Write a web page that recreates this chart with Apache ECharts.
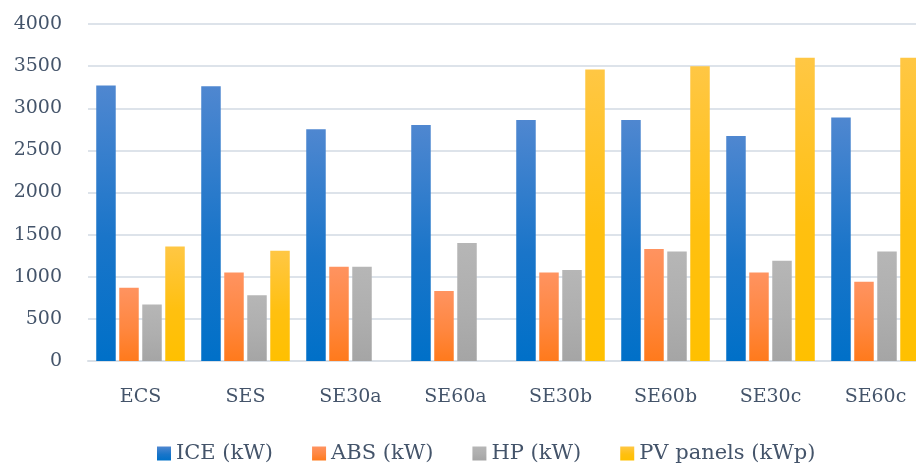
<!DOCTYPE html>
<html>
<head>
<meta charset="utf-8">
<script src="https://cdn.jsdelivr.net/npm/echarts@6/dist/echarts.min.js"></script>
<style>
	html, body { margin: 0; padding: 0; background: #fff; }
	#chart { width: 916px; height: 463px; }
</style>
</head>
<body>
<div id="chart"></div>
<script>
var categories = ['ECS', 'SES', 'SE30a', 'SE60a', 'SE30b', 'SE60b', 'SE30c', 'SE60c'];
var yTicks = [0, 500, 1000, 1500, 2000, 2500, 3000, 3500, 4000];
var iceData = [3270, 3260, 2750, 2800, 2860, 2860, 2670, 2890];
var absData = [870, 1050, 1120, 830, 1050, 1330, 1050, 940];
var hpData = [670, 780, 1120, 1400, 1080, 1300, 1190, 1300];
var pvData = [1360, 1310, 0, 0, 3460, 3500, 3600, 3600];

var textColor = '#44546A';
var fontFam = 'DejaVu Serif';

// 渐变填充
function grad(top, mid, bottom) {
	return new echarts.graphic.LinearGradient(0, 0, 0, 1, [
		{ offset: 0, color: top },
		{ offset: 0.55, color: mid },
		{ offset: 1, color: bottom }
	]);
}

var chart = echarts.init(document.getElementById('chart'));
var option = {
	animation: false,
	grid: { left: 88, width: 840, top: 24, bottom: 102, containLabel: false, outerBoundsMode: 'none' },
	legend: {
		top: 438,
		left: 152,
		itemWidth: 14,
		itemHeight: 14,
		itemGap: 39,
		icon: 'rect',
		textStyle: { color: textColor, fontFamily: fontFam, fontSize: 21, padding: [0, 0, 0, 0] },
		data: ['ICE (kW)', 'ABS (kW)', 'HP (kW)', 'PV panels (kWp)']
	},
	xAxis: {
		type: 'category',
		data: categories,
		axisTick: { show: false },
		axisLine: { lineStyle: { color: '#d9dfe6', width: 2 } },
		axisLabel: { color: textColor, fontFamily: fontFam, fontSize: 19, margin: 27 }
	},
	yAxis: {
		type: 'value',
		min: yTicks[0],
		max: yTicks[yTicks.length - 1],
		interval: 500,
		axisLine: { show: false },
		axisTick: { show: false },
		splitLine: { lineStyle: { color: '#dde3ea', width: 2 } },
		axisLabel: {
			color: textColor, fontFamily: fontFam, fontSize: 19, margin: 26,
			formatter: function (v) { return String(v); }
		}
	},
	series: [{
		name: 'ICE (kW)',
		type: 'bar',
		barWidth: 19.5,
		barGap: '18%',
		itemStyle: { color: grad('#4f87d0', '#1a75c9', '#0070c8') },
		data: iceData
	}, {
		name: 'ABS (kW)',
		type: 'bar',
		barWidth: 19.5,
		barGap: '18%',
		itemStyle: { color: grad('#ff9360', '#ff8740', '#ff7a1c') },
		data: absData
	}, {
		name: 'HP (kW)',
		type: 'bar',
		barWidth: 19.5,
		barGap: '18%',
		itemStyle: { color: grad('#b6b6b6', '#aeaeae', '#a5a5a5') },
		data: hpData
	}, {
		name: 'PV panels (kWp)',
		type: 'bar',
		barWidth: 19.5,
		barGap: '18%',
		itemStyle: { color: grad('#ffc744', '#ffc010', '#ffc000') },
		data: pvData
	}]
};
chart.setOption(option);
</script>
</body>
</html>
